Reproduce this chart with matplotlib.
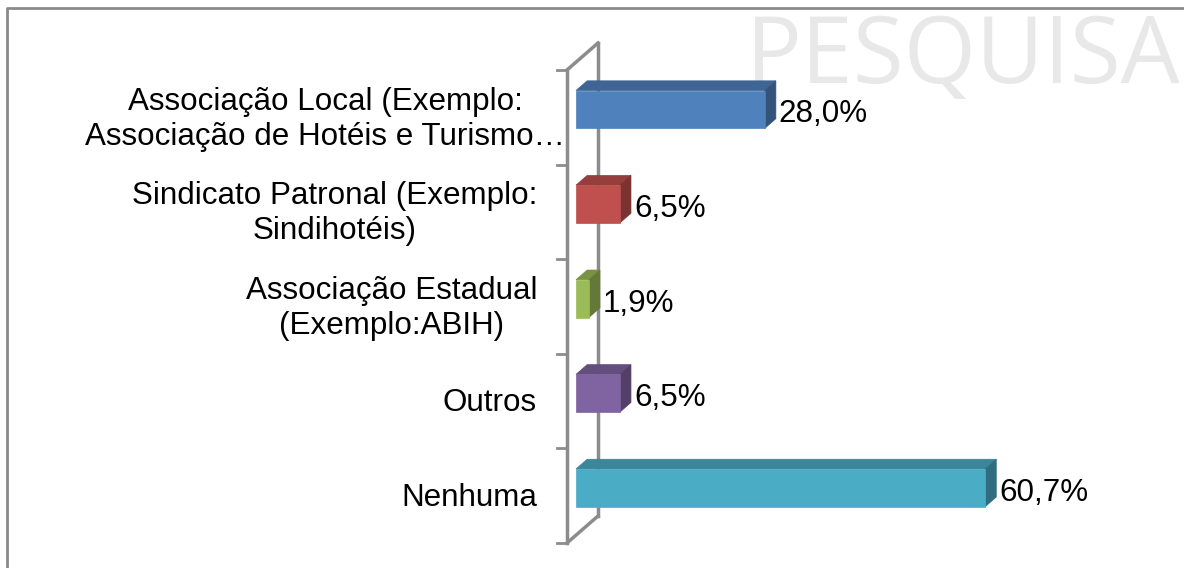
import matplotlib
matplotlib.use("Agg")
import matplotlib.pyplot as plt
from matplotlib.patches import Polygon, Arc
import matplotlib.colors as mcolors

categorias = [
    "Associação Local (Exemplo:\nAssociação de Hotéis e Turismo…",
    "Sindicato Patronal (Exemplo:\nSindihotéis)",
    "Associação Estadual\n(Exemplo:ABIH)",
    "Outros",
    "Nenhuma",
]
valores = [28.0, 6.5, 1.9, 6.5, 60.7]
rotulos = ["28,0%", "6,5%", "1,9%", "6,5%", "60,7%"]
cores = ["#4F81BD", "#C0504D", "#9BBB59", "#8064A2", "#4BACC6"]

W, H = 1184, 568
PX_X = 6.74      # pixels per percent
PX_Y = 94.6      # pixels per category
X0, Y0 = 567, 70 # front wall origin (pixels)
DX = 31 / PX_X   # full depth, in data units
DY = -27 / PX_Y
D0, D1 = 0.29, 0.65  # bar front/back depth
HALF = 0.2

plt.rcParams["font.family"] = ["Liberation Sans", "DejaVu Sans"]
fig = plt.figure(figsize=(W / 100, H / 100), dpi=100)

# background: frame, watermark, faint logo arcs (pixel coords)
bg = fig.add_axes([0, 0, 1, 1], zorder=0)
bg.set_xlim(0, W)
bg.set_ylim(H, 0)
bg.axis("off")
bg.plot([7, 7, W], [H, 8, 8], color="#8A8A8A", lw=2, solid_capstyle="butt")
bg.text(746, 83, "PESQUISA", fontsize=67, color="#E8E8E8",
        family=["Open Sans", "DejaVu Sans"], va="baseline", ha="left")
bg.add_patch(Arc((330, -160), 560, 520, theta1=200, theta2=320,
                 color="#E3F7FB", lw=7, alpha=0.8))
bg.add_patch(Arc((250, -60), 560, 150, theta1=180, theta2=300,
                 color="#EDFAFC", lw=6, alpha=0.8))

ax = fig.add_axes([0, 0, 1, 1], zorder=1)
ax.patch.set_alpha(0)
ax.set_xlim(-X0 / PX_X, (W - X0) / PX_X)
ax.set_ylim((H - Y0) / PX_Y, -Y0 / PX_Y)
ax.axis("off")


def p(v, u, d):
    return (v + DX * d, u + DY * d)


n = len(categorias)
wall = "#8C8C8C"
# wall / axis lines
ax.plot(*zip(p(0, 0, 0), p(0, n, 0)), color=wall, lw=2.5, zorder=1)
ax.plot(*zip(p(0, 0, 1), p(0, n, 1)), color=wall, lw=2.5, zorder=1)
ax.plot(*zip(p(0, 0, 0), p(0, 0, 1)), color=wall, lw=2.5, zorder=1)
ax.plot(*zip(p(0, n, 0), p(0, n, 1)), color=wall, lw=2.5, zorder=1)
for k in range(n + 1):
    ax.plot([-10 / PX_X, 0], [k, k], color=wall, lw=2, zorder=1)

for i, (val, cor) in enumerate(zip(valores, cores)):
    c = i + 0.5
    base = mcolors.to_rgb(cor)
    topo = tuple(x * 0.78 for x in base)
    lado = tuple(x * 0.64 for x in base)
    frente = [p(0, c - HALF, D0), p(val, c - HALF, D0),
              p(val, c + HALF, D0), p(0, c + HALF, D0)]
    cima = [p(0, c - HALF, D0), p(val, c - HALF, D0),
            p(val, c - HALF, D1), p(0, c - HALF, D1)]
    dir_ = [p(val, c - HALF, D0), p(val, c + HALF, D0),
            p(val, c + HALF, D1), p(val, c - HALF, D1)]
    for poly, fc in ((cima, topo), (dir_, lado), (frente, base)):
        ax.add_patch(Polygon(poly, closed=True, facecolor=fc,
                             edgecolor=fc, lw=0.5, zorder=3))
    # value label
    lx, ly = p(val, c, D1)
    ax.annotate(rotulos[i], (lx, c + DY * D0), xytext=(3, -5),
                textcoords="offset pixels", ha="left", va="center",
                fontsize=22.6, color="black", zorder=4)
    # category label (the long first one runs into the wall, as in Excel)
    dx_lbl = -2 if i == 0 else -30
    ax.annotate(categorias[i], (0, c), xytext=(dx_lbl, -2),
                textcoords="offset pixels", ha="right", va="center",
                multialignment="center", linespacing=1.22,
                fontsize=22.6, color="black", zorder=4)

fig.savefig("out.png", dpi=100)
